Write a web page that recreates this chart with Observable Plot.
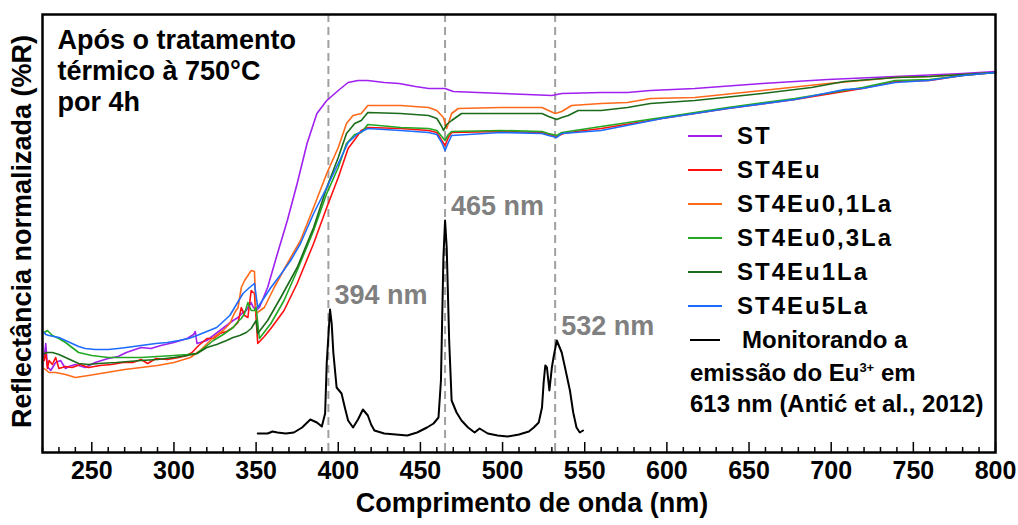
<!DOCTYPE html>
<html><head><meta charset="utf-8">
<script src="https://cdn.jsdelivr.net/npm/d3@7"></script>
<script src="https://cdn.jsdelivr.net/npm/@observablehq/plot@0.6"></script>
<style>
body{margin:0;background:#fff;}
#wrap{position:relative;width:1018px;height:525px;font-family:"Liberation Sans",Arial,sans-serif;font-weight:bold;}
#legend{position:absolute;left:688px;top:119px;font-size:24px;color:#000;}
.row{height:34px;display:flex;align-items:center;white-space:nowrap}
.sw{width:34px;height:0;border-top:2.5px solid;margin-right:15px}
.name{letter-spacing:2px}
.cap{height:31px;line-height:31px;white-space:nowrap;margin-left:2px}
sup{font-size:13px;vertical-align:9px;line-height:0}
</style></head><body><div id="wrap"></div>
<script>
// Wavelength (nm) vs normalized reflectance (arbitrary units)
const ST = [[221,95],[222,109],[223,86],[225,82],[228,90],[231,92],[234,84],[236,86],[240,88],[246,85],[252,90],[260,94],[266,96],[271,100],[280,105],[286,104],[292,107],[300,110],[308,114],[312,118],[313,121],[314,109],[320,112],[324,117],[328,122],[332,127],[336,132],[339,135],[342,140],[344,142],[347,150],[348,146],[350,142],[352,145],[357,165],[363,199],[369,232],[375,269],[381,309],[387,339],[393,352],[400,362],[406,370],[412,372],[418,372],[428,370],[437,369],[447,366],[455,364],[465,364],[470,361],[485,360],[500,359],[515,358],[530,357],[536,359],[560,360],[576,360],[590,362],[617,364],[658,369],[698,373],[739,376],[780,379],[800,381]];
const ST4Eu = [[221,92],[222,100],[223,84],[224,92],[226,88],[228,95],[230,84],[234,86],[238,85],[243,88],[248,85],[255,87],[262,88],[269,90],[275,90],[280,93],[284,89],[289,94],[296,93],[303,95],[308,97],[311,100],[315,107],[318,111],[320,114],[324,114],[328,119],[332,121],[336,125],[339,130],[341,145],[343,137],[345,135],[347,162],[349,159],[351,109],[355,116],[359,124],[367,142],[375,169],[385,209],[393,245],[400,275],[406,304],[411,315],[414,322],[418,325],[438,324],[455,322],[460,320],[463,312],[465,307],[467,315],[469,320],[499,321],[524,320],[528,318],[533,316],[537,319],[545,321],[560,324],[597,334],[637,344],[678,353],[719,364],[739,371],[760,372],[780,377],[800,380]];
const ST4Eu01La = [[221,84],[224,80],[228,80],[234,78],[240,75],[248,77],[259,80],[270,83],[280,85],[290,87],[300,90],[310,95],[316,102],[324,115],[330,122],[334,129],[337,140],[339,145],[341,165],[343,172],[347,182],[349,181],[350,139],[355,145],[361,165],[369,189],[377,212],[385,245],[393,279],[400,305],[405,329],[409,337],[414,339],[418,347],[438,347],[455,345],[460,342],[464,335],[466,324],[469,339],[473,344],[499,345],[524,345],[528,342],[532,339],[536,341],[542,347],[560,349],[576,350],[590,354],[617,355],[658,362],[698,369],[719,372],[739,375],[760,376],[780,378],[800,380]];
const ST4Eu03La = [[221,120],[223,122],[226,117],[230,114],[234,110],[242,100],[250,97],[260,95],[270,95],[280,95],[290,96],[300,97],[308,98],[314,99],[318,104],[324,112],[330,118],[336,125],[339,131],[341,134],[343,139],[345,150],[347,142],[349,142],[350,145],[352,114],[359,129],[367,152],[375,182],[385,222],[393,259],[400,285],[405,309],[410,318],[414,320],[418,328],[438,325],[455,324],[460,322],[463,316],[465,312],[467,318],[469,321],[499,322],[524,321],[528,319],[533,317],[536,320],[556,325],[560,326],[597,335],[637,345],[678,354],[719,365],[739,372],[760,373],[780,377],[800,380]];
const ST4Eu1La = [[221,99],[223,100],[226,100],[230,98],[234,95],[238,92],[242,89],[248,88],[254,89],[265,90],[280,92],[290,93],[300,95],[308,97],[314,99],[320,105],[326,108],[332,112],[336,115],[340,117],[344,120],[347,124],[350,132],[351,119],[357,132],[365,155],[375,185],[385,225],[393,265],[400,295],[405,319],[410,329],[414,332],[418,340],[438,339],[455,337],[460,334],[463,326],[464,322],[466,328],[469,332],[475,339],[499,339],[524,339],[528,336],[533,333],[536,335],[540,337],[546,342],[560,342],[576,345],[590,349],[617,352],[658,359],[688,365],[708,371],[739,375],[760,376],[780,378],[800,380]];
const ST4Eu5La = [[221,120],[222,118],[224,117],[227,116],[230,115],[234,112],[238,109],[242,106],[246,104],[252,103],[260,103],[266,104],[271,105],[280,107],[289,109],[296,110],[303,112],[309,114],[314,117],[320,121],[326,125],[330,131],[334,137],[338,148],[342,159],[346,165],[349,169],[351,145],[355,155],[359,165],[365,178],[371,192],[377,209],[385,239],[393,265],[400,289],[406,310],[412,319],[418,324],[438,322],[455,320],[460,318],[463,310],[465,302],[467,310],[469,317],[499,320],[524,319],[528,317],[533,315],[536,319],[560,322],[591,332],[597,334],[637,344],[678,353],[708,363],[719,364],[739,370],[759,372],[780,377],[800,380]];
// Eu3+ excitation spectrum (monitoring 613 nm emission)
const EMISSION = [[351,19],[357,19],[360,21],[363,20],[368,19],[373,20],[378,25],[383,33],[387,30],[390,26],[392,39],[393,90],[395,143],[396,129],[397,100],[399,65],[402,59],[404,45],[406,32],[409,25],[412,33],[415,43],[418,37],[420,28],[422,22],[428,19],[435,18],[442,17],[448,20],[454,25],[458,29],[461,35],[462.5,72],[464,195],[465,232],[466,205],[467.5,112],[469,52],[472,40],[475,32],[479,25],[483,20],[486,24],[489,21],[491,19],[497,17],[503,16],[510,18],[516,21],[519,25],[522,30],[524,45],[525,70],[526,87],[527,85],[528.5,62],[530,85],[531,95],[533,112],[536,100],[538,85],[541,62],[543,40],[545,25],[547,20],[549,22]];

const SERIES_NAMES = ["ST","ST4Eu","ST4Eu0,1La","ST4Eu0,3La","ST4Eu1La","ST4Eu5La"];
const SERIES_DATA = [ST, ST4Eu, ST4Eu01La, ST4Eu03La, ST4Eu1La, ST4Eu5La];
const SERIES_COLORS = ["#a020f0","#ff1010","#ff6a1a","#22a822","#1b6b1b","#1e6cff"];
const PEAKS = [394, 465, 532];
const PEAK_LABELS = ["394 nm","465 nm","532 nm"];
const X_TICKS = d3.range(250, 801, 50);
const X_MINOR = d3.range(220, 801, 10).filter(v => v % 50 !== 0);
const NOTE = "Após o tratamento\ntérmico à 750°C\npor 4h";
const X_LABEL = "Comprimento de onda (nm)";
const Y_LABEL = "Reflectância normalizada (%R)";

const rows = SERIES_DATA.flatMap((arr, i) => arr.map(([w, r]) => ({w, r, series: SERIES_NAMES[i]})));
const peakRows = PEAKS.map((p, i) => ({
  w: p, label: PEAK_LABELS[i],
  r: d3.max(EMISSION.filter(d => Math.abs(d[0] - p) <= 3), d => d[1])
}));

const font = "'Liberation Sans', Arial, sans-serif";
const chart = Plot.plot({
  width: 1018, height: 525,
  marginLeft: 42, marginRight: 23, marginTop: 14, marginBottom: 73,
  style: {fontFamily: font, fontWeight: "bold", fontSize: "25px", color: "#000", background: "#fff"},
  x: {domain: [220, 800], axis: null},
  y: {domain: [0, 438], axis: null},
  color: {domain: SERIES_NAMES, range: SERIES_COLORS},
  marks: [
    Plot.ruleX(PEAKS, {stroke: "#a0a0a0", strokeWidth: 2, strokeDasharray: "8,5"}),
    Plot.line(rows, {x: "w", y: "r", z: "series", stroke: "series", strokeWidth: 1.6}),
    Plot.line(EMISSION, {x: d => d[0], y: d => d[1], stroke: "#000", strokeWidth: 2}),
    Plot.text(peakRows, {x: "w", y: "r", text: "label", dx: 6, dy: -14, textAnchor: "start", fill: "#808080", fontSize: 27}),
    Plot.ruleX(X_MINOR, {y1: 0, y2: 5, stroke: "#000", strokeWidth: 1.5}),
    Plot.ruleX(X_TICKS, {y1: 0, y2: 10, stroke: "#000", strokeWidth: 1.5}),
    Plot.text(X_TICKS, {x: d => d, frameAnchor: "bottom", dy: 26, fontSize: 25, fill: "#000"}),
    Plot.text([X_LABEL], {frameAnchor: "bottom", dy: 59, dx: 13, fontSize: 27, fill: "#000"}),
    Plot.text([Y_LABEL], {frameAnchor: "left", textAnchor: "middle", rotate: -90, dx: -20, dy: -2, fontSize: 27, fill: "#000"}),
    Plot.text([NOTE], {frameAnchor: "top-left", dx: 15, dy: 12, lineAnchor: "top", textAnchor: "start", lineHeight: 1.15, fontSize: 27, fill: "#000"}),
    Plot.frame({stroke: "#000", strokeWidth: 2.5})
  ]
});
const wrap = document.getElementById("wrap");
wrap.appendChild(chart);

const legend = document.createElement("div");
legend.id = "legend";
SERIES_NAMES.forEach((n, i) => {
  const row = document.createElement("div");
  row.className = "row";
  row.innerHTML = `<span class="sw" style="border-color:${SERIES_COLORS[i]}"></span><span class="name">${n}</span>`;
  legend.appendChild(row);
});
const r7 = document.createElement("div");
r7.className = "row";
r7.innerHTML = `<span class="sw" style="border-color:#000;width:30px;margin-left:2px;margin-right:22px"></span><span>Monitorando a</span>`;
legend.appendChild(r7);
const c1 = document.createElement("div"); c1.className = "cap";
c1.innerHTML = "emissão do Eu<sup>3+</sup> em";
const c2 = document.createElement("div"); c2.className = "cap";
c2.textContent = "613 nm (Antić et al., 2012)";
legend.appendChild(c1); legend.appendChild(c2);
wrap.appendChild(legend);
</script></body></html>
